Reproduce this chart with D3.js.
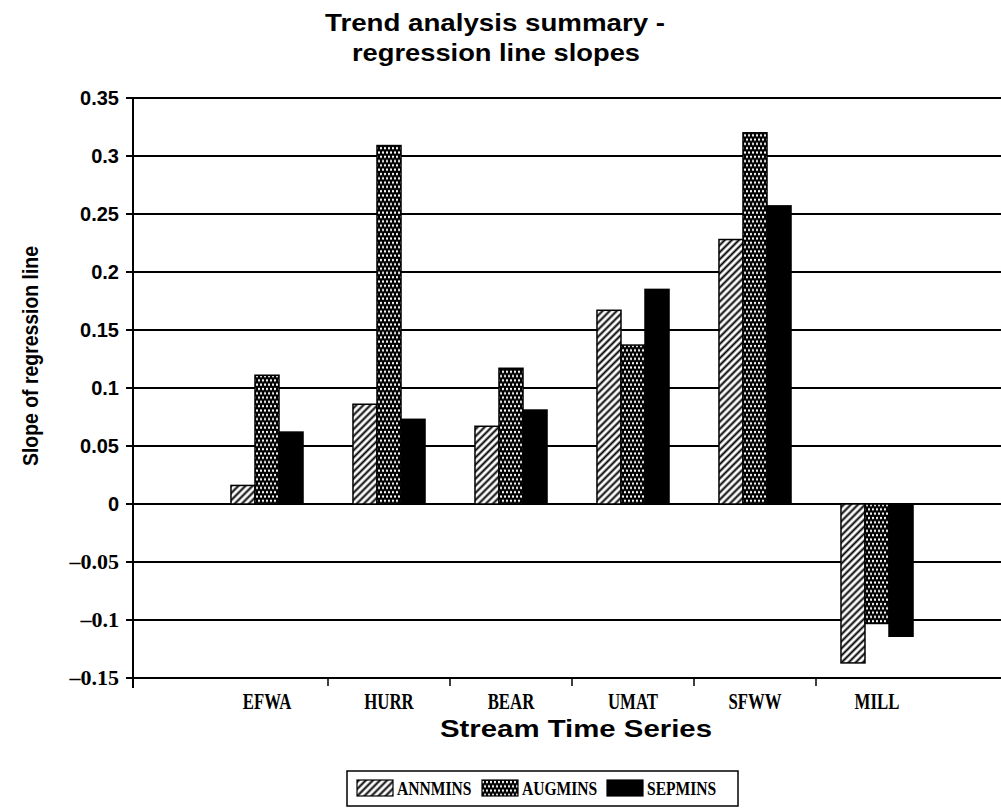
<!DOCTYPE html>
<html>
<head>
<meta charset="utf-8">
<script src="https://cdn.jsdelivr.net/npm/d3@7"></script>
<style>
  body { margin: 0; background: #fff; }
  svg { display: block; }
</style>
</head>
<body>
<svg id="chart" width="1001" height="809"></svg>
<script>
// Stream gauges and the three low-flow series whose regression slopes are plotted
const categories = ["EFWA", "HURR", "BEAR", "UMAT", "SFWW", "MILL"];
const seriesNames = ["ANNMINS", "AUGMINS", "SEPMINS"];
const annmins = [0.016, 0.086, 0.067, 0.167, 0.228, -0.137];
const augmins = [0.111, 0.309, 0.117, 0.137, 0.320, -0.103];
const sepmins = [0.062, 0.073, 0.081, 0.185, 0.257, -0.114];
const yTicks = [0.35, 0.3, 0.25, 0.2, 0.15, 0.1, 0.05, 0, -0.05, -0.1, -0.15];
const yTickLabels = ["0.35", "0.3", "0.25", "0.2", "0.15", "0.1", "0.05", "0", "\u20130.05", "\u20130.1", "\u20130.15"];

const seriesValues = [annmins, augmins, sepmins];
const fills = ["url(#hatch)", "url(#dots)", "#000"];

const svg = d3.select("#chart");
const W = 1001;
const sans = "'Liberation Sans', Arial, sans-serif";
const serif = "'Liberation Serif', 'Times New Roman', serif";

// Fill patterns: diagonal hatch, black with white dots, and solid
const defs = svg.append("defs");
const hatch = defs.append("pattern")
  .attr("id", "hatch").attr("patternUnits", "userSpaceOnUse")
  .attr("width", 5).attr("height", 5)
  .attr("patternTransform", "rotate(45)");
hatch.append("rect").attr("width", 5).attr("height", 5).attr("fill", "#fff");
hatch.append("line").attr("x1", 1.5).attr("y1", 0).attr("x2", 1.5).attr("y2", 5)
  .attr("stroke", "#000").attr("stroke-width", 2);

const dots = defs.append("pattern")
  .attr("id", "dots").attr("patternUnits", "userSpaceOnUse")
  .attr("width", 4).attr("height", 8.6);
dots.append("rect").attr("width", 4).attr("height", 8.6).attr("fill", "#000");
dots.append("ellipse").attr("cx", 1).attr("cy", 2).attr("rx", 1.1).attr("ry", 1.35).attr("fill", "#fff");
dots.append("ellipse").attr("cx", 3).attr("cy", 6.3).attr("rx", 1.1).attr("ry", 1.35).attr("fill", "#fff");

// Scales
const y = d3.scaleLinear().domain([-0.15, 0.35]).range([678, 98]);
const x0 = d3.scaleBand().domain(categories).range([206, 938]).padding(0);
const x1 = d3.scaleBand().domain(seriesNames).range([0, x0.bandwidth()])
  .paddingInner(0).paddingOuter(1.04);

const axisX = 133;

// Horizontal grid lines with tick marks
svg.append("g").selectAll("line").data(yTicks).join("line")
  .attr("x1", axisX - 7).attr("x2", W)
  .attr("y1", d => y(d)).attr("y2", d => y(d))
  .attr("stroke", "#000").attr("stroke-width", 2);

// Y tick labels: sans for positive values, serif for negative values
svg.append("g").selectAll("text").data(yTicks).join("text")
  .attr("x", 119).attr("y", d => y(d) + 7)
  .attr("text-anchor", "end")
  .attr("font-family", d => d < 0 ? serif : sans)
  .attr("font-weight", "bold")
  .attr("font-size", d => d < 0 ? 22 : 20)
  .text((d, i) => yTickLabels[i]);

// Bars
const groups = svg.append("g").selectAll("g").data(categories).join("g")
  .attr("transform", c => `translate(${x0(c)},0)`);
groups.selectAll("rect")
  .data((c, ci) => seriesNames.map((s, si) => ({ s, si, v: seriesValues[si][ci] })))
  .join("rect")
  .attr("x", d => x1(d.s))
  .attr("width", x1.bandwidth())
  .attr("y", d => y(Math.max(0, d.v)))
  .attr("height", d => Math.abs(y(d.v) - y(0)))
  .attr("fill", d => fills[d.si])
  .attr("stroke", "#000").attr("stroke-width", 1.5);

// Y axis line
svg.append("line")
  .attr("x1", axisX).attr("x2", axisX)
  .attr("y1", y(0.35) - 1).attr("y2", y(-0.15) + 10)
  .attr("stroke", "#000").attr("stroke-width", 2);

// Category boundary ticks on the bottom line
svg.append("g").selectAll("line").data(categories.slice(1)).join("line")
  .attr("x1", c => x0(c)).attr("x2", c => x0(c))
  .attr("y1", y(-0.15)).attr("y2", y(-0.15) + 8)
  .attr("stroke", "#000").attr("stroke-width", 1.5);

// Category labels in a condensed bold serif
svg.append("g").selectAll("text").data(categories).join("text")
  .attr("transform", c => `translate(${x0(c) + x0.bandwidth() / 2},709) scale(0.7,1)`)
  .attr("text-anchor", "middle")
  .attr("font-family", serif).attr("font-weight", "bold").attr("font-size", 24)
  .text(c => c);

// Axis titles
svg.append("text")
  .attr("x", 576).attr("y", 737)
  .attr("text-anchor", "middle")
  .attr("font-family", sans).attr("font-weight", "bold").attr("font-size", 23)
  .attr("textLength", 272).attr("lengthAdjust", "spacingAndGlyphs")
  .text("Stream Time Series");

svg.append("text")
  .attr("transform", "translate(38,356) rotate(-90)")
  .attr("text-anchor", "middle")
  .attr("font-family", sans).attr("font-weight", "bold").attr("font-size", 22)
  .attr("textLength", 220).attr("lengthAdjust", "spacingAndGlyphs")
  .text("Slope of regression line");

// Chart title
const title = svg.append("g").attr("font-family", sans).attr("font-weight", "bold")
  .attr("font-size", 24).attr("text-anchor", "middle");
title.append("text").attr("x", 495).attr("y", 31)
  .attr("textLength", 340).attr("lengthAdjust", "spacingAndGlyphs")
  .text("Trend analysis summary -");
title.append("text").attr("x", 496).attr("y", 61)
  .attr("textLength", 288).attr("lengthAdjust", "spacingAndGlyphs")
  .text("regression line slopes");

// Legend
const legend = svg.append("g");
legend.append("rect").attr("x", 347).attr("y", 771).attr("width", 391).attr("height", 35)
  .attr("fill", "#fff").attr("stroke", "#000").attr("stroke-width", 1.5);
const items = legend.selectAll("g").data(seriesNames).join("g")
  .attr("transform", (s, i) => `translate(${357 + i * 125},780)`);
items.append("rect").attr("width", 36).attr("height", 16)
  .attr("fill", (s, i) => fills[i]).attr("stroke", "#000").attr("stroke-width", 1.2);
items.append("text")
  .attr("transform", "translate(40,15) scale(0.82,1)")
  .attr("font-family", serif).attr("font-weight", "bold").attr("font-size", 19)
  .text(s => s);
</script>
</body>
</html>
